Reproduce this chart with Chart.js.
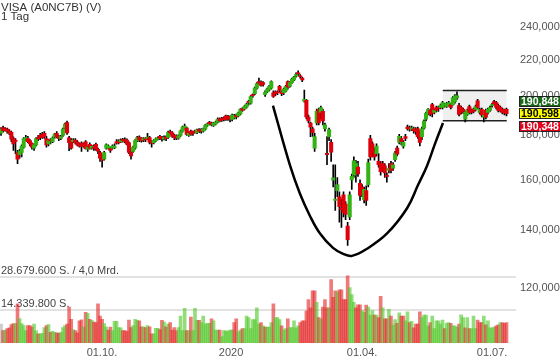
<!DOCTYPE html>
<html>
<head>
<meta charset="utf-8">
<script src="https://cdn.jsdelivr.net/npm/chart.js@4.4.1/dist/chart.umd.min.js"></script>
<style>
  html, body { margin: 0; padding: 0; background: #fff; }
  #wrap { position: relative; width: 560px; height: 363px; }
</style>
</head>
<body>
<div id="wrap"><canvas id="chart" width="560" height="363"></canvas></div>
<script>
// daily candles, one per trading day (Jul 2019 - Jul 2020)
const opens = [
  181.0,183.8,183.2,183.0,182.0,181.5,178.5,177.6,172.0,171.0,
  172.0,174.5,178.0,178.5,177.5,176.0,174.0,175.5,179.0,180.0,
  180.5,181.0,178.5,176.0,178.0,177.0,179.2,181.0,179.5,178.5,
  180.0,183.5,186.2,178.8,177.5,177.0,177.8,176.8,175.5,176.3,
  175.8,177.0,173.5,175.8,174.0,174.5,175.8,173.5,172.0,170.5,
  169.0,174.0,174.0,173.8,174.0,174.2,177.0,177.3,177.0,178.0,
  178.0,177.8,176.5,172.0,172.5,174.0,177.5,179.2,178.5,177.8,
  178.3,178.5,179.0,177.0,176.5,177.5,178.3,179.5,179.0,178.3,
  179.2,179.0,181.8,181.2,180.0,179.6,178.7,180.0,182.0,183.5,
  183.5,180.0,182.0,181.5,182.0,181.3,182.8,182.8,182.0,183.0,
  184.8,186.3,186.0,184.8,185.5,186.5,188.0,188.2,188.5,189.5,
  189.2,189.0,187.8,188.5,189.8,189.5,190.5,193.3,193.0,194.0,
  197.0,196.0,200.5,201.0,204.0,207.5,207.0,207.0,200.5,202.0,
  203.0,204.0,201.5,202.0,202.0,205.0,202.0,201.5,202.5,207.5,
  205.0,207.0,208.5,210.5,212.5,210.8,209.5,197.0,197.5,188.9,
  186.0,183.2,174.0,186.0,192.8,191.4,191.8,183.2,171.6,179.4,
  176.7,159.8,151.5,155.5,153.0,148.5,153.8,150.0,141.5,145.0,
  160.0,162.0,165.5,165.5,158.5,157.0,151.8,155.5,158.0,178.5,
  176.0,172.5,171.5,168.0,167.0,167.0,166.0,162.0,164.0,167.0,
  165.0,168.8,174.0,176.7,178.5,174.9,179.4,184.0,183.6,183.0,
  183.2,183.0,183.2,181.3,179.4,183.5,187.9,190.8,192.3,195.3,
  191.3,193.8,193.8,193.8,193.8,194.8,194.3,195.0,195.3,195.3,
  196.8,198.8,194.8,193.8,192.8,187.9,190.3,194.3,192.3,192.8,
  192.8,197.3,191.3,192.8,188.9,192.3,191.3,192.3,194.8,196.8,
  196.3,194.8,193.8,192.8,192.3,192.8
];
const highs = [
  183.8,184.5,183.8,183.5,182.8,182.0,179.3,178.5,173.0,173.5,
  175.5,179.0,180.0,179.5,178.0,176.5,176.0,179.0,180.0,181.0,
  181.5,181.8,179.5,178.0,178.5,179.3,181.0,181.8,180.0,180.0,
  183.5,186.0,187.0,179.5,178.5,178.5,178.5,177.5,176.5,177.0,
  176.5,177.5,175.0,176.5,175.3,175.5,176.3,174.0,172.5,171.0,
  172.5,176.0,175.5,174.5,175.5,176.0,178.0,178.0,178.3,178.6,
  178.8,178.3,177.0,172.5,175.0,178.0,179.5,179.8,179.0,179.0,
  179.0,181.0,179.5,177.5,178.0,178.8,179.3,180.0,179.5,179.8,
  179.8,182.0,182.5,181.8,180.5,180.2,180.3,182.5,184.5,185.5,
  184.0,181.8,182.5,182.0,182.5,183.0,183.3,183.3,183.5,185.3,
  186.0,186.8,186.5,186.3,187.0,188.5,188.5,188.8,189.0,190.0,
  189.8,189.5,190.5,190.3,190.5,191.5,193.3,193.8,194.8,196.0,
  197.5,200.0,201.0,204.5,207.0,209.5,208.0,207.5,202.5,204.0,
  205.5,208.0,202.5,202.5,202.5,205.5,202.5,204.0,205.5,208.0,
  207.5,209.5,210.5,212.5,213.5,211.5,210.0,203.0,198.0,189.9,
  186.5,184.0,181.0,193.0,193.5,194.5,193.0,186.0,179.4,183.5,
  178.0,166.5,166.5,161.0,155.0,152.0,155.0,151.0,143.0,155.0,
  162.5,170.0,168.5,168.0,160.0,158.0,157.0,157.5,169.0,180.0,
  177.0,174.0,176.0,171.5,168.0,168.0,167.0,163.0,167.0,168.0,
  167.5,172.5,175.0,180.5,179.5,177.5,180.5,185.0,184.5,184.5,
  184.0,183.8,184.0,182.0,184.0,187.5,191.5,193.3,193.0,196.0,
  193.0,194.5,194.5,195.5,197.0,196.0,196.5,197.0,196.0,199.5,
  200.5,202.0,196.0,194.5,193.5,192.0,193.0,195.0,193.0,193.5,
  195.0,198.0,193.5,193.5,190.5,193.0,193.5,194.5,196.0,197.5,
  197.0,195.5,194.5,193.5,193.0,193.5
];
const lows = [
  180.0,181.5,182.0,181.0,180.3,177.0,173.0,171.5,167.0,169.5,
  170.0,174.0,177.5,176.5,175.0,173.5,173.0,175.0,177.5,178.0,
  178.5,178.5,174.5,175.0,176.0,176.5,178.5,178.8,177.5,178.0,
  179.5,183.0,180.5,172.8,173.5,176.5,176.0,175.0,174.5,172.5,
  174.5,173.5,172.5,173.5,173.5,173.0,173.0,171.5,168.0,165.5,
  168.5,173.5,173.5,172.0,173.5,173.8,175.8,176.0,176.5,176.8,
  176.5,175.5,171.5,169.0,172.0,173.5,177.0,177.0,176.8,177.0,
  177.0,178.0,176.0,174.5,176.0,177.0,177.8,178.0,177.3,177.8,
  177.5,178.5,180.5,179.0,178.0,178.0,178.2,179.5,181.5,183.0,
  180.0,179.5,180.0,180.0,181.0,180.8,181.3,181.0,181.5,182.5,
  184.3,185.0,184.5,184.3,185.0,186.0,186.5,186.8,187.0,187.3,
  187.3,186.5,187.0,188.0,188.0,189.0,190.0,191.8,192.5,193.5,
  195.0,195.5,199.0,200.5,203.5,206.0,205.0,205.0,199.5,201.5,
  202.5,203.5,199.0,200.0,200.5,202.0,200.0,200.5,202.0,203.5,
  204.5,206.5,208.0,210.0,211.0,209.5,207.5,196.5,188.0,186.0,
  179.4,179.5,172.5,185.0,185.0,188.0,185.0,182.0,166.5,177.5,
  168.0,157.0,147.5,153.0,143.0,141.0,145.0,144.0,134.5,144.0,
  156.0,161.0,159.0,161.5,151.5,153.0,150.5,149.5,157.0,168.5,
  170.0,168.5,170.5,165.5,162.0,163.5,161.0,159.0,163.0,163.0,
  164.0,168.0,170.5,176.0,175.5,174.0,177.5,182.5,182.0,182.3,
  181.0,180.5,178.5,175.0,178.0,183.0,187.0,190.0,189.5,189.0,
  190.5,191.5,191.8,193.0,193.0,194.0,193.8,194.5,193.0,195.0,
  196.0,198.0,189.5,190.5,190.8,186.5,189.8,190.5,190.5,191.0,
  192.0,193.0,190.5,189.0,186.5,188.0,190.5,191.8,194.0,195.0,
  193.0,191.5,191.5,190.5,190.0,189.5
];
const closes = [
  183.0,182.3,182.6,182.0,181.0,178.2,176.0,177.1,169.0,172.5,
  175.0,178.5,179.0,177.0,176.0,174.5,175.5,178.5,178.3,179.0,
  179.0,179.5,175.5,177.5,177.4,178.8,180.6,179.4,178.5,179.4,
  183.0,185.5,181.2,176.5,174.0,177.8,176.8,175.5,174.9,174.8,
  175.2,173.8,174.5,174.0,174.8,174.0,173.5,172.6,169.5,168.5,
  172.0,175.5,175.0,173.0,175.0,175.0,176.3,176.6,177.8,177.5,
  177.2,175.8,172.0,170.5,174.5,177.5,179.0,177.8,177.5,178.5,
  177.8,179.2,176.8,176.3,177.5,178.3,178.8,178.5,178.3,179.0,
  178.5,181.5,181.0,179.5,179.0,178.6,179.8,182.0,184.0,184.5,
  180.5,181.0,180.5,181.0,181.6,182.5,182.0,182.0,183.0,184.8,
  185.6,185.8,185.3,185.8,186.5,187.8,187.0,187.5,187.8,187.8,
  188.0,188.0,190.0,189.8,189.0,191.0,192.8,192.3,194.3,195.5,
  196.3,199.5,200.0,204.0,206.5,206.8,205.5,206.0,201.8,203.5,
  205.0,207.5,199.5,201.0,201.5,202.8,201.0,203.5,205.0,204.5,
  207.0,209.0,210.0,211.5,211.8,210.3,208.5,198.0,189.0,187.0,
  184.0,181.3,179.4,191.8,186.0,193.8,187.0,185.1,171.0,182.8,
  172.2,160.8,152.0,158.0,149.0,147.8,146.8,146.0,136.5,153.8,
  161.5,168.3,167.0,162.5,153.5,154.5,156.0,151.5,167.5,170.0,
  172.0,170.0,175.0,166.5,163.5,164.5,163.0,161.3,165.0,164.0,
  166.5,171.8,171.3,179.5,177.0,176.7,178.6,183.2,183.0,183.6,
  182.3,181.8,179.4,176.7,183.2,187.0,190.8,192.8,190.3,190.8,
  192.3,192.3,193.3,194.8,196.3,195.3,195.8,196.3,193.8,198.8,
  199.9,199.9,190.3,191.3,191.8,191.3,192.3,191.3,191.3,191.8,
  194.3,193.8,192.8,189.9,189.9,188.9,192.8,193.8,195.3,195.8,
  193.8,192.3,192.3,191.3,191.0,190.598
];
// volume in million shares
const volumes = [
  8.2,5.4,5.6,6.2,6.5,8.0,8.4,8.4,16.9,10.5,
  8.4,7.5,5.4,7.5,7.5,7.0,8.2,5.4,4.0,4.0,
  4.2,6.7,7.5,8.0,4.6,5.0,4.6,4.4,4.2,4.6,
  6.7,7.5,8.2,15.5,10.2,5.8,5.4,4.4,9.6,10.0,
  7.0,13.2,12.8,10.2,9.8,9.0,8.8,16.9,11.6,10.2,
  8.4,6.9,5.6,6.9,5.4,9.3,9.3,6.7,6.5,5.4,
  5.4,5.0,9.9,6.7,7.5,10.2,9.8,9.6,7.0,7.0,
  6.7,7.5,7.0,4.0,4.0,6.3,6.3,5.8,9.8,9.0,
  7.0,8.2,8.8,5.6,6.7,5.4,6.7,11.6,5.4,15.0,
  5.4,5.4,11.2,5.4,15.0,9.8,9.8,8.8,11.6,8.2,
  8.5,8.5,10.4,9.6,5.6,5.6,5.6,2.8,5.4,5.1,
  5.1,5.6,5.6,8.8,10.4,4.8,5.6,6.2,6.2,11.6,
  11.0,6.2,10.1,10.1,15.2,8.2,8.8,7.4,6.9,6.9,
  6.9,8.8,16.9,11.0,11.0,10.1,7.4,5.6,6.2,10.4,
  6.7,6.7,9.6,6.5,7.4,8.8,9.6,9.6,13.8,18.7,
  15.2,22.5,22.5,17.5,11.0,10.4,15.5,18.7,15.2,15.2,
  27.4,19.7,22.5,22.1,22.9,22.9,18.7,18.7,29.0,23.9,
  20.9,17.5,15.2,16.5,16.5,14.0,13.2,16.4,15.5,12.0,
  14.0,12.0,12.0,11.0,20.1,15.2,10.4,10.4,14.5,11.6,
  7.8,10.1,8.5,13.0,11.6,11.6,9.6,13.5,8.8,9.3,
  6.5,8.2,8.2,13.5,11.0,12.0,12.0,7.4,8.8,11.6,
  6.2,9.6,9.6,8.2,9.9,6.2,8.5,8.8,8.5,7.4,
  7.4,6.9,8.2,12.1,11.0,6.5,11.0,6.2,6.2,11.6,
  6.2,9.9,8.8,8.8,11.6,7.8,9.6,6.5,6.5,6.9,
  7.4,7.8,8.8,8.8,8.5,8.8
];

// x axis: trading-day index of each tick label
const tickAt = [48.9, 111.5, 175, 238];
const tickText = ['01.10.', '2020', '01.04.', '01.07.'];
const priceTicks = [120, 140, 160, 180, 200, 220, 240];
const volumeMarks = [28.6796, 14.3398];
const volumeMarkText = ['28.679.600 S. / 4,0 Mrd.', '14.339.800 S.'];

// hand-drawn cup (index, price) and the range box
const cupIdx = [131.8, 140.1, 144.9, 149.8, 154.6, 160.9, 165.8, 170.1, 177.4, 187.1, 196.8, 202.1, 206.5, 210.4, 214.2];
const cupPrice = [194.8, 166.1, 154.2, 145.3, 138.8, 133.6, 131.5, 130.8, 133.3, 138.8, 148.4, 157.8, 166.1, 176.2, 186.0];
const boxIdx = [214.1, 245.1];
const boxTop = 202.7;
const boxBottom = 187.1;

const quotes = [190.848, 190.598, 190.348];

const FONT = '"Liberation Sans", Arial, sans-serif';
const fmt = v => v.toFixed(3).replace('.', ',');

const idx = closes.map((_, i) => i);
const bodyColors = closes.map((c, i) => c >= opens[i] ? '#34b414' : '#e0000c');
const volColors = closes.map((c, i) => {
  if (i === 0) return 'rgba(170,170,170,0.6)';
  return c >= closes[i - 1] ? 'rgba(80,200,40,0.62)' : 'rgba(228,40,40,0.62)';
});

const overlay = {
  id: 'overlay',
  beforeDatasetsDraw(chart) {
    const { ctx, chartArea: a, scales } = chart;
    ctx.save();
    ctx.font = '11px ' + FONT;
    volumeMarks.forEach((v, k) => {
      const y = Math.round(scales.yVol.getPixelForValue(v));
      ctx.strokeStyle = '#e2e2e2';
      ctx.lineWidth = 2;
      ctx.beginPath();
      ctx.moveTo(a.left, y);
      ctx.lineTo(a.right, y);
      ctx.stroke();
      ctx.fillStyle = '#444';
      ctx.textBaseline = 'alphabetic';
      ctx.fillText(volumeMarkText[k], 1, y - 3);
    });
    ctx.fillStyle = '#333';
    ctx.font = '11.5px ' + FONT;
    ctx.fillText('VISA (A0NC7B) (V)', 1, 10.5);
    ctx.fillText('1 Tag', 1, 19.5);
    ctx.restore();
  },
  afterDraw(chart) {
    const { ctx, scales } = chart;
    const mid = scales.y.getPixelForValue(quotes[1]);
    const centres = [mid - 12, mid, mid + 13];
    const fills = ['#17661a', '#ffff00', '#e3001b'];
    const inks = ['#fff', '#000', '#fff'];
    ctx.save();
    ctx.font = 'bold 10.5px ' + FONT;
    ctx.textBaseline = 'middle';
    quotes.forEach((q, k) => {
      const top = Math.round(centres[k] - 5.5);
      ctx.fillStyle = fills[k];
      ctx.fillRect(519, top, 41, 11);
      ctx.strokeStyle = '#222';
      ctx.lineWidth = 1;
      ctx.strokeRect(519.5, top + 0.5, 41, 10);
      ctx.fillStyle = inks[k];
      ctx.fillText(fmt(q), 521, top + 6);
    });
    ctx.restore();
  }
};

new Chart(document.getElementById('chart'), {
  type: 'bar',
  data: {
    datasets: [
      {
        type: 'line',
        data: boxIdx.map(x => ({ x, y: boxTop })),
        borderColor: '#222',
        borderWidth: 1.6,
        pointRadius: 0,
        fill: '+1',
        backgroundColor: '#efefef',
        order: 10
      },
      {
        type: 'line',
        data: boxIdx.map(x => ({ x, y: boxBottom })),
        borderColor: '#222',
        borderWidth: 1.6,
        pointRadius: 0,
        fill: false,
        order: 9
      },
      {
        yAxisID: 'yVol',
        data: idx.map(i => ({ x: i, y: volumes[i] })),
        backgroundColor: volColors,
        barThickness: 3,
        grouped: false,
        order: 8
      },
      {
        data: idx.map(i => ({ x: i, y: [lows[i], highs[i]] })),
        backgroundColor: '#000',
        barThickness: 1,
        grouped: false,
        order: 6
      },
      {
        data: idx.map(i => ({ x: i, y: [opens[i], closes[i]] })),
        backgroundColor: bodyColors,
        barThickness: 3.4,
        grouped: false,
        order: 5
      },
      {
        type: 'line',
        data: cupIdx.map((x, k) => ({ x, y: cupPrice[k] })),
        borderColor: '#000',
        borderWidth: 2.5,
        tension: 0.4,
        pointRadius: 0,
        fill: false,
        order: 1
      }
    ]
  },
  options: {
    responsive: false,
    animation: false,
    events: [],
    layout: { padding: 0 },
    plugins: {
      legend: { display: false },
      tooltip: { enabled: false }
    },
    scales: {
      x: {
        type: 'linear',
        min: -0.5,
        max: 249.6,
        offset: false,
        bounds: 'data',
        grid: { display: false, drawTicks: false },
        border: { display: false },
        afterBuildTicks: s => { s.ticks = tickAt.map(v => ({ value: v })); },
        afterFit: s => { s.height = 20; },
        ticks: {
          autoSkip: false,
          maxRotation: 0,
          padding: 3,
          color: '#555',
          font: { family: FONT, size: 11 },
          callback: v => tickText[tickAt.indexOf(v)]
        }
      },
      y: {
        type: 'logarithmic',
        position: 'right',
        min: 103.84,
        max: 250.51,
        bounds: 'data',
        grid: { display: false, drawTicks: false },
        border: { display: false },
        afterBuildTicks: s => { s.ticks = priceTicks.map(v => ({ value: v })); },
        afterFit: s => { s.width = 44; },
        ticks: {
          autoSkip: false,
          padding: 4,
          color: '#555',
          font: { family: FONT, size: 11 },
          callback: v => fmt(v)
        }
      },
      yVol: {
        display: false,
        min: 0,
        max: 143.4
      }
    }
  },
  plugins: [overlay]
});
</script>
</body>
</html>
